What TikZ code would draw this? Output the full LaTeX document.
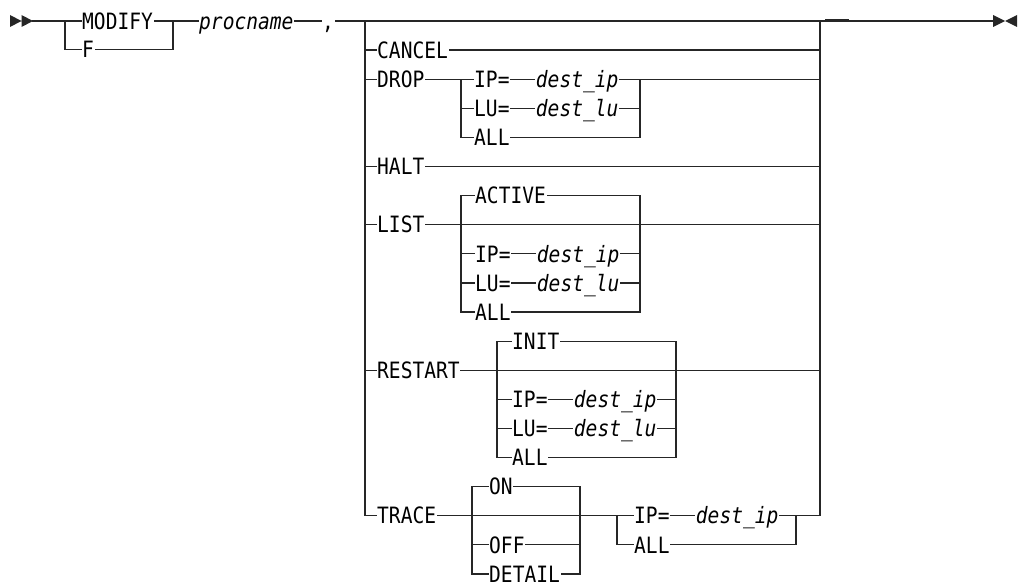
\documentclass[tikz,border=0pt]{standalone}
\usepackage{fontspec}
\newfontfamily\railfont[FakeStretch=0.87]{DejaVu Sans Mono}
\usetikzlibrary{positioning}

\begin{document}
\begin{tikzpicture}[x=1pt,y=-1pt,
  kw/.style={font=\railfont\fontsize{22.5}{23}\selectfont,anchor=west,
             inner xsep=1pt,inner ysep=0pt,text height=16.4pt,text depth=0pt},
  var/.style={kw,font=\railfont\fontsize{22.5}{23}\selectfont\itshape},
  rail/.style={line width=1.2pt,draw=black!85,line cap=rect},
  endmark/.style={fill=black!85},
]
\useasboundingbox (0,0) rectangle (1020,586);
% ============ start, command name, procedure ============
\fill[endmark] (10,15) -- (21.5,21) -- (10,27) -- cycle
               (21.5,15) -- (33,21) -- (21.5,27) -- cycle;
\coordinate (start) at (33,21);
\node[kw] (modify) at (81,21) {MODIFY};
\node[kw] (f) at (81,49.5) {F};
\node[var] (proc) at (198,21) {procname};
\node[kw] (comma) at (321,21) {,};
\coordinate (fin) at (993,21);
\draw[rail] (start) -- (modify.west);
\draw[rail] (65,21) |- (f.west);
\draw[rail] (f.east) -| (173,21);
\draw[rail] (modify.east) -- (proc.west);
\draw[rail] (proc.east) -- (comma.west);
\draw[rail] (comma.east) -- (fin);
\draw[line width=2.6pt,draw=black!85] (825,20.3) -- (849,20.3);
\fill[endmark] (993,15) -- (1005,21) -- (993,27) -- cycle
               (1005,21) -- (1017,15) -- (1017,27) -- cycle;
% ============ operator choice ============
\draw[rail] (365,21) -- (365,515.7);
\draw[rail] (820,21) -- (820,515.7);
\node[kw] (cancel) at (376,50.1) {CANCEL};
\draw[rail] (365,50.1) -- (cancel.west) (cancel.east) -- (820,50.1);
% DROP
\node[kw] (drop) at (376,79.2) {DROP};
\node[kw] (dropip) at (473,79.2) {IP=};
\node[var,right=24pt of dropip] (dropipv) {dest\_ip};
\node[kw] (droplu) at (473,108.3) {LU=};
\node[var,right=24pt of droplu] (droplul) {dest\_lu};
\node[kw] (dropall) at (473,137.4) {ALL};
\draw[rail] (365,79.2) -- (drop.west) (drop.east) -- (dropip.west);
\draw[rail] (dropip.east) -- (dropipv.west) (droplu.east) -- (droplul.west);
\draw[rail] (dropipv.east) -- (820,79.2);
\draw[rail] (461,79.2) |- (droplu.west) (461,79.2) |- (dropall.west);
\draw[rail] (640,79.2) |- (droplul.east) (640,79.2) |- (dropall.east);
% HALT
\node[kw] (halt) at (376,166.5) {HALT};
\draw[rail] (365,166.5) -- (halt.west) (halt.east) -- (820,166.5);
% LIST
\node[kw] (list) at (376,224.7) {LIST};
\node[kw] (listact) at (474,195.6) {ACTIVE};
\node[kw] (listip) at (474,253.8) {IP=};
\node[var,right=24pt of listip] (listipv) {dest\_ip};
\node[kw] (listlu) at (474,282.9) {LU=};
\node[var,right=24pt of listlu] (listluv) {dest\_lu};
\node[kw] (listall) at (474,312) {ALL};
\draw[rail] (365,224.7) -- (list.west) (list.east) -- (820,224.7);
\draw[rail] (listact.west) -| (461,312) -- (listall.west);
\draw[rail] (461,253.8) -- (listip.west) (461,282.9) -- (listlu.west);
\draw[rail] (listact.east) -| (640,312) -- (listall.east);
\draw[rail] (listip.east) -- (listipv.west) (listipv.east) -- (640,253.8);
\draw[rail] (listlu.east) -- (listluv.west) (listluv.east) -- (640,282.9);
% RESTART
\node[kw] (restart) at (376,370.2) {RESTART};
\node[kw] (resinit) at (511,341.1) {INIT};
\node[kw] (resip) at (511,399.3) {IP=};
\node[var,right=24pt of resip] (resipv) {dest\_ip};
\node[kw] (reslu) at (511,428.4) {LU=};
\node[var,right=24pt of reslu] (resluv) {dest\_lu};
\node[kw] (resall) at (511,457.5) {ALL};
\draw[rail] (365,370.2) -- (restart.west) (restart.east) -- (820,370.2);
\draw[rail] (resinit.west) -| (497,457.5) -- (resall.west);
\draw[rail] (497,399.3) -- (resip.west) (497,428.4) -- (reslu.west);
\draw[rail] (resinit.east) -| (676,457.5) -- (resall.east);
\draw[rail] (resip.east) -- (resipv.west) (resipv.east) -- (676,399.3);
\draw[rail] (reslu.east) -- (resluv.west) (resluv.east) -- (676,428.4);
% TRACE
\node[kw] (trace) at (376,515.7) {TRACE};
\node[kw] (traceon) at (488,486.6) {ON};
\node[kw] (traceoff) at (488,544.8) {OFF};
\node[kw] (tracedet) at (488,573.9) {DETAIL};
\node[kw] (traceip) at (633,515.7) {IP=};
\node[var,right=24pt of traceip] (traceipv) {dest\_ip};
\node[kw] (traceall) at (633,544.8) {ALL};
\draw[rail] (365,515.7) -- (trace.west) (trace.east) -- (traceip.west);
\draw[rail] (traceon.west) -| (472,573.9) -- (tracedet.west);
\draw[rail] (472,544.8) -- (traceoff.west);
\draw[rail] (traceon.east) -| (580,573.9) -- (tracedet.east);
\draw[rail] (traceoff.east) -- (580,544.8);
\draw[rail] (traceip.east) -- (traceipv.west) (traceipv.east) -- (820,515.7);
\draw[rail] (617,515.7) |- (traceall.west) (796,515.7) |- (traceall.east);
\end{tikzpicture}
\end{document}
